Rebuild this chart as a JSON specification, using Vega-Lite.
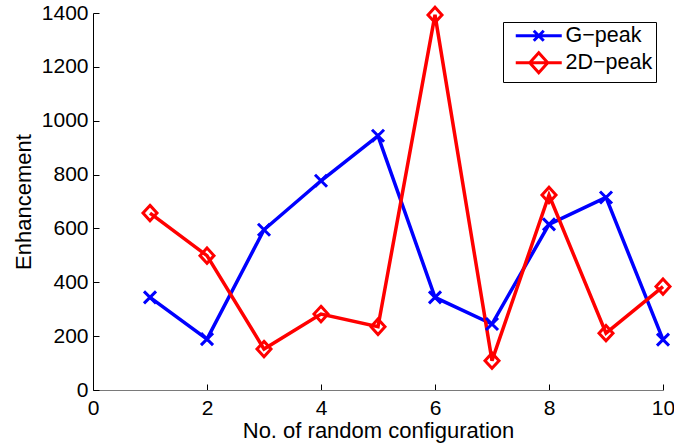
{
  "$schema": "https://vega.github.io/schema/vega-lite/v6.json",
  "width": 570,
  "height": 377,
  "autosize": {"type": "none"},
  "padding": {"left": 93, "top": 13, "right": 11, "bottom": 55},
  "background": "white",
  "config": {
    "view": {"stroke": null},
    "font": "Liberation Sans",
    "axis": {
      "grid": false,
      "labelFont": "Liberation Sans",
      "titleFont": "Liberation Sans",
      "labelFontSize": 21,
      "titleFontSize": 22,
      "titleFontWeight": "normal",
      "labelColor": "#000",
      "titleColor": "#000",
      "tickColor": "#000",
      "domainColor": "#000",
      "tickSize": -6,
      "tickWidth": 1,
      "domainWidth": 1
    }
  },
  "data": {
    "values": [
      {"x": 1, "y": 344, "series": "G−peak"},
      {"x": 2, "y": 189, "series": "G−peak"},
      {"x": 3, "y": 595, "series": "G−peak"},
      {"x": 4, "y": 777, "series": "G−peak"},
      {"x": 5, "y": 944, "series": "G−peak"},
      {"x": 6, "y": 344, "series": "G−peak"},
      {"x": 7, "y": 245, "series": "G−peak"},
      {"x": 8, "y": 615, "series": "G−peak"},
      {"x": 9, "y": 715, "series": "G−peak"},
      {"x": 10, "y": 187, "series": "G−peak"},
      {"x": 1, "y": 657, "series": "2D−peak"},
      {"x": 2, "y": 499, "series": "2D−peak"},
      {"x": 3, "y": 152, "series": "2D−peak"},
      {"x": 4, "y": 282, "series": "2D−peak"},
      {"x": 5, "y": 235, "series": "2D−peak"},
      {"x": 6, "y": 1393, "series": "2D−peak"},
      {"x": 7, "y": 109, "series": "2D−peak"},
      {"x": 8, "y": 724, "series": "2D−peak"},
      {"x": 9, "y": 211, "series": "2D−peak"},
      {"x": 10, "y": 384, "series": "2D−peak"}
    ]
  },
  "encoding": {
    "x": {
      "field": "x",
      "type": "quantitative",
      "scale": {"domain": [0, 10], "nice": false, "zero": false},
      "axis": {
        "values": [0, 2, 4, 6, 8, 10],
        "title": "No. of random configuration",
        "domainColor": "#7a7a7a",
        "labelPadding": 13,
        "titlePadding": 2,
        "labelFlush": false
      }
    },
    "y": {
      "field": "y",
      "type": "quantitative",
      "scale": {"domain": [0, 1400], "nice": false},
      "axis": {
        "values": [0, 200, 400, 600, 800, 1000, 1200, 1400],
        "format": "d",
        "title": "Enhancement",
        "labelPadding": 11,
        "titlePadding": 6,
        "labelFlush": false
      }
    },
    "color": {
      "field": "series",
      "type": "nominal",
      "scale": {"domain": ["G−peak", "2D−peak"], "range": ["#0000ff", "#ff0000"]},
      "legend": {
        "title": null,
        "orient": "none",
        "legendX": 410,
        "legendY": 9,
        "padding": 3,
        "strokeColor": "#000",
        "fillColor": "#fff",
        "cornerRadius": 0,
        "labelFont": "Liberation Sans",
        "labelFontSize": 21.5,
        "labelColor": "#000",
        "symbolSize": 100,
        "symbolStrokeWidth": 3,
        "symbolOffset": 22,
        "labelOffset": 16,
        "rowPadding": -1,
        "symbolFillColor": "transparent",
        "encode": {
          "symbols": {
            "update": {
              "shape": {"signal": "datum.value === 'G−peak' ? 'M-4.6,0L4.6,0M-1,-1L1,1M-1,1L1,-1' : 'M-4.6,0L4.6,0M0,-2L1.8,0L0,2L-1.8,0Z'"},
              "fill": {"value": "transparent"}
            }
          }
        }
      }
    }
  },
  "layer": [
    {"mark": {"type": "line", "strokeWidth": 3.5}},
    {
      "transform": [{"filter": "datum.series === 'G−peak'"}],
      "mark": {"type": "point", "filled": false, "strokeWidth": 3, "opacity": 1, "size": 196, "shape": "M-0.86,-0.86L0.86,0.86M-0.86,0.86L0.86,-0.86"}
    },
    {
      "transform": [{"filter": "datum.series === '2D−peak'"}],
      "mark": {"type": "point", "filled": false, "strokeWidth": 3, "opacity": 1, "size": 196, "shape": "M0,-1.1L1,0L0,1.1L-1,0Z"}
    }
  ]
}
